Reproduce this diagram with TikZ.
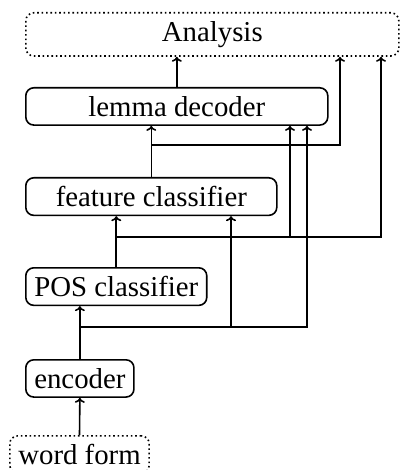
\documentclass[tikz,border=0pt]{standalone}
\usepackage{fontspec}
\setmainfont{Liberation Serif}
\usetikzlibrary{arrows.meta}

\begin{document}
\begin{tikzpicture}[x=1pt,y=-1pt,line width=1.6pt,>={To[width=10pt,length=5pt]},
        module/.style={draw, rounded corners=8pt, inner sep=8.5pt, font=\fontsize{28.8}{34}\selectfont},
        io/.style={module, dash pattern=on 1.6pt off 2.8pt}]
        \useasboundingbox (0,0) rectangle (403,470);

        \draw (25,12) node[io, anchor=north west, minimum width=373pt] (analysis) {Analysis};
        \draw (25,87) node[module, anchor=north west, minimum width=302pt] (lemma) {lemma decoder};
        \draw (25,177) node[module, anchor=north west, minimum width=251pt] (feature) {feature classifier};
        \draw (25,267) node[module, anchor=north west] (pos) {POS classifier};
        \draw (25,359) node[module, anchor=north west] (encoder) {encoder};
        \draw (79.5,435) node[io, anchor=north] (wordform) {word form};

        \draw[->] (wordform.north) -- (encoder.south);

        % encoder feeds all three
        \draw[->] (encoder.north) -- (encoder.north |- pos.south);
        \draw[->] (encoder.north |- 0,327) -| ([xshift=206pt]feature.south west);
        \draw[->] (231,327) -| ([xshift=282pt]lemma.south west);

        % POS tags
        \draw[->] (pos.north) -- (pos.north |- feature.south);
        \draw[->] (pos.north |- 0,237) -| ([xshift=265pt]lemma.south west);
        \draw[->] (290,237) -| ([xshift=356pt]analysis.south west);

        % features
        \draw[->] (feature.north) -- (feature.north |- lemma.south);
        \draw[->] (feature.north |- 0,145) -| ([xshift=315pt]analysis.south west);

        \draw[->] (lemma.north) -- (lemma.north |- analysis.south);
    \end{tikzpicture}
\end{document}
